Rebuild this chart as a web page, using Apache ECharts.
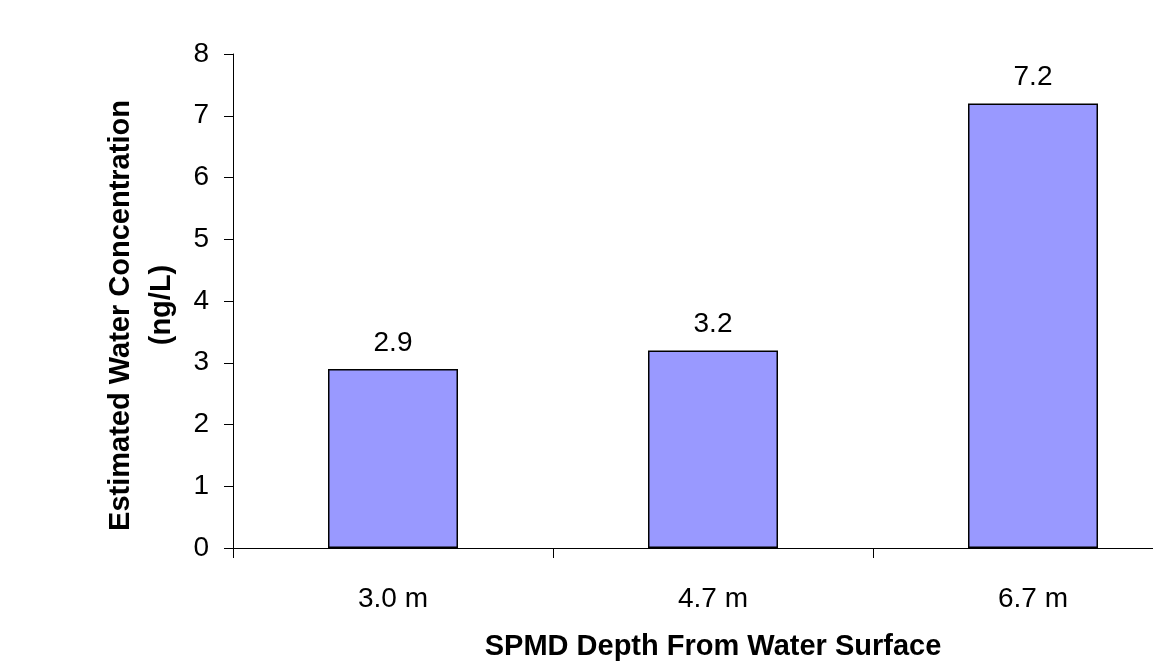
<!DOCTYPE html>
<html>
<head>
<meta charset="utf-8">
<script src="https://cdn.jsdelivr.net/npm/echarts@6/dist/echarts.min.js"></script>
<style>html,body{margin:0;padding:0;background:#fff;overflow:hidden;}#c{width:1193px;height:666px;}</style>
</head>
<body>
<div id="c"></div>
<script>
var categories = ['3.0 m', '4.7 m', '6.7 m'];
var values = [2.9, 3.2, 7.2];
var yTicks = [0, 1, 2, 3, 4, 5, 6, 7, 8];

var chart = echarts.init(document.getElementById('c'));
var font = 'Liberation Sans, Arial, sans-serif';
chart.setOption({
  animation: false,
  backgroundColor: '#fff',
  grid: { left: 233, right: 0, top: 54, bottom: 116.5, containLabel: false },
  xAxis: {
    type: 'category',
    data: categories,
    boundaryGap: true,
    name: 'SPMD Depth From Water Surface',
    nameLocation: 'middle',
    nameGap: 84,
    nameTextStyle: { fontFamily: font, fontSize: 29, fontWeight: 'bold', color: '#000', lineHeight: 29 },
    axisLine: { show: true, lineStyle: { color: '#000', width: 1 } },
    axisTick: { show: true, alignWithLabel: false, length: 10, lineStyle: { color: '#000' } },
    axisLabel: { margin: 37, fontFamily: font, fontSize: 28, color: '#000', lineHeight: 28 },
    splitLine: { show: false }
  },
  yAxis: {
    type: 'value',
    min: yTicks[0],
    max: yTicks[yTicks.length - 1],
    interval: 1,
    name: '{a|Estimated Water Concentration}\n{b|(ng/L)}',
    nameLocation: 'middle',
    nameRotate: 90,
    nameGap: 49,
    nameTextStyle: {
      fontFamily: font, fontSize: 29, fontWeight: 'bold', color: '#000', lineHeight: 41, align: 'center',
      rich: {
        a: { fontFamily: font, fontSize: 29, fontWeight: 'bold', color: '#000', lineHeight: 41, padding: [0, 29, 0, 0] },
        b: { fontFamily: font, fontSize: 29, fontWeight: 'bold', color: '#000', lineHeight: 41, padding: [0, 8, 0, 0] }
      }
    },
    axisLine: { show: true, lineStyle: { color: '#000', width: 1 } },
    axisTick: { show: true, length: 9, lineStyle: { color: '#000' } },
    axisLabel: { margin: 24, fontFamily: font, fontSize: 28, color: '#000' },
    splitLine: { show: false }
  },
  series: [{
    type: 'bar',
    data: values,
    barWidth: 130,
    itemStyle: { color: '#9999FF', borderColor: '#000', borderWidth: 1.5 },
    label: {
      show: true,
      position: 'top',
      distance: 12,
      fontFamily: font,
      fontSize: 28,
      color: '#000',
      formatter: function (p) { return p.value.toFixed(1); }
    }
  }]
});
</script>
</body>
</html>
